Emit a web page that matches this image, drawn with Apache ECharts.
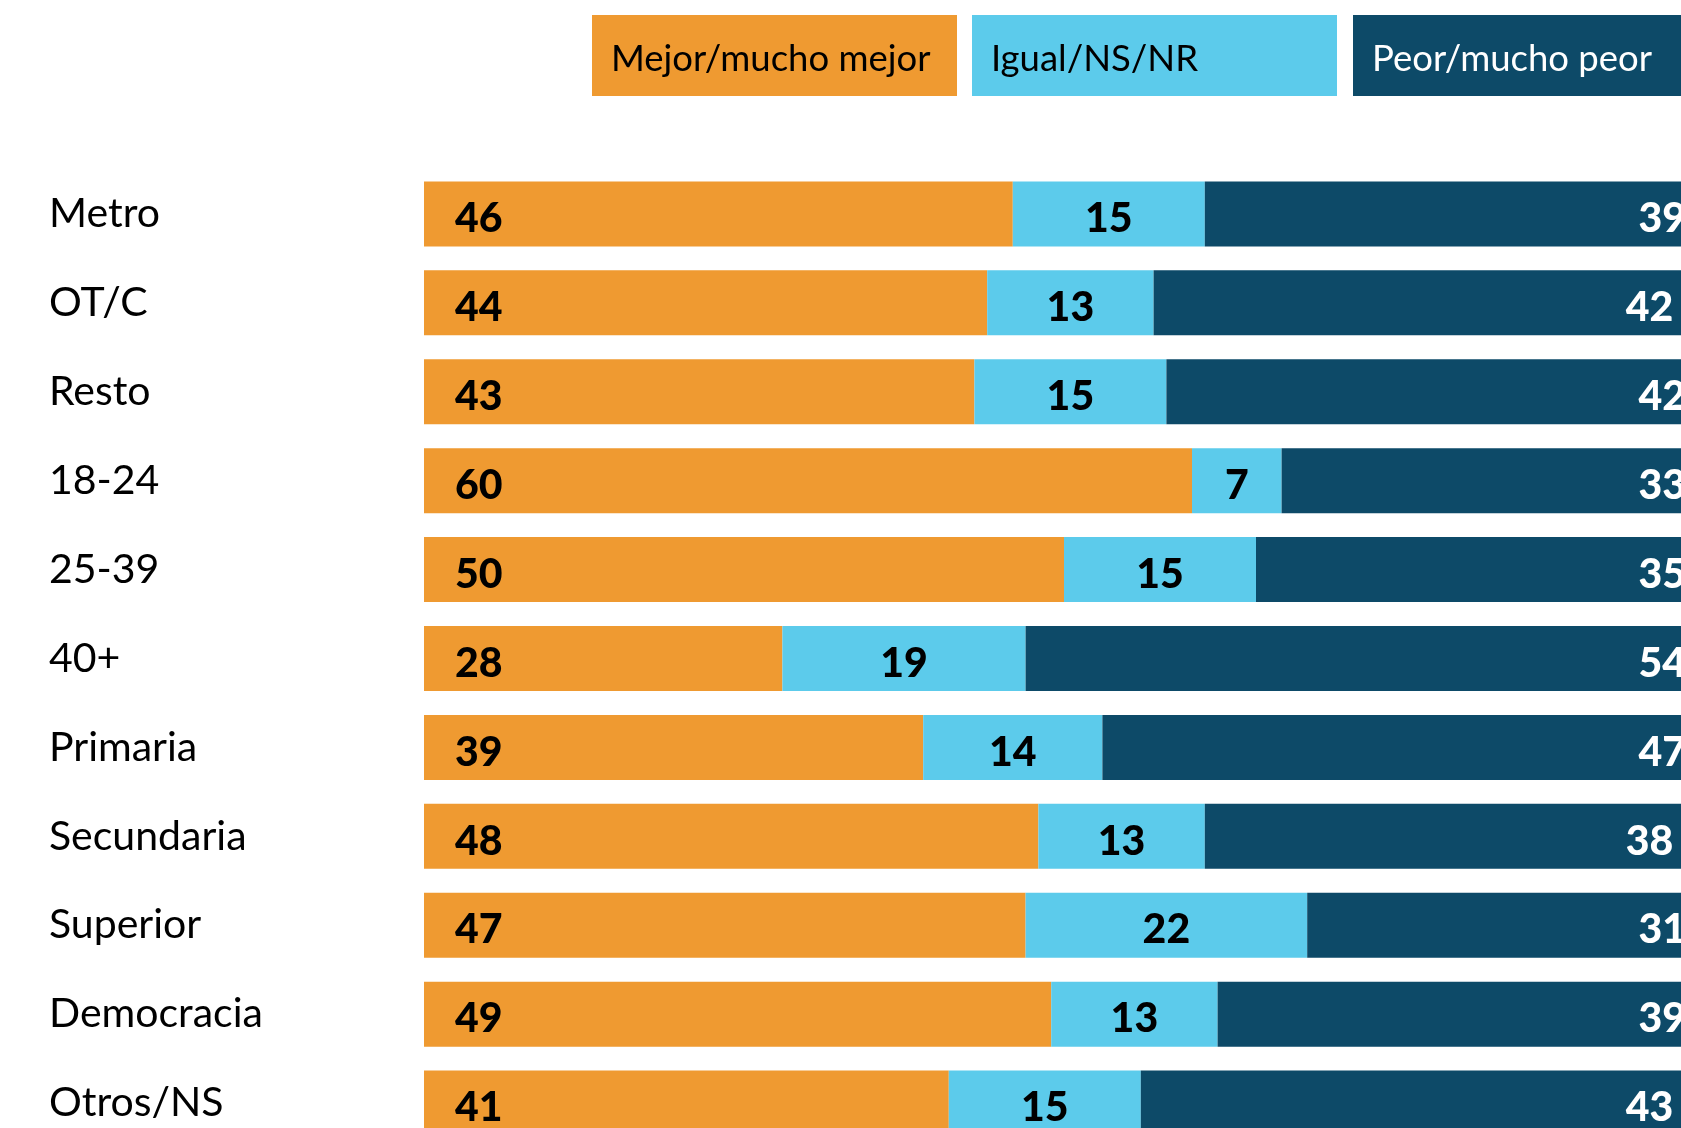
<!DOCTYPE html>
<html>
<head>
<meta charset="utf-8">
<script src="https://cdn.jsdelivr.net/npm/echarts@6/dist/echarts.min.js"></script>
<style>
  html, body { margin: 0; padding: 0; background: #fff; overflow: hidden; }
  /* 图表比窗口大，右侧和底部被裁掉 */
  #chart { width: 1720px; height: 1150px; }
</style>
</head>
<body>
<div id="chart"></div>
<script>
// 分组
const categories = ['Metro', 'OT/C', 'Resto', '18-24', '25-39', '40+', 'Primaria', 'Secundaria', 'Superior', 'Democracia', 'Otros/NS'];
const seriesNames = ['Mejor/mucho mejor', 'Igual/NS/NR', 'Peor/mucho peor'];
const mejor = [46, 44, 43, 60, 50, 28, 39, 48, 47, 49, 41];
const igual = [15, 13, 15, 7, 15, 19, 14, 13, 22, 13, 15];
const peor = [39, 42, 42, 33, 35, 54, 47, 38, 31, 39, 43];

const colors = ['#EF9A31', '#5CCBEB', '#0D4A68'];
const font = 'Lato, "Noto Sans", sans-serif';

let myChart = echarts.init(document.getElementById('chart'));

// 数值标签
function valueLabel(position, color, distance) {
  return {
    show: true,
    position: position,
    distance: distance,
    offset: [0, 5],
    color: color,
    fontFamily: font,
    fontWeight: 900,
    fontSize: 41
  };
}

// 图例方块（放在顶部）
const legendBoxes = [];
const boxX = [592, 972, 1353];
seriesNames.forEach((name, i) => {
  legendBoxes.push({
    type: 'rect',
    left: boxX[i],
    top: 15,
    shape: { width: 365, height: 81 },
    style: { fill: colors[i] }
  });
  legendBoxes.push({
    type: 'text',
    left: boxX[i] + 19,
    top: 41,
    style: {
      text: name,
      fill: i === 2 ? '#fff' : '#000',
      font: '36.5px ' + font
    }
  });
});

myChart.setOption({
  animation: false,
  grid: {
    left: 424,
    right: 16,
    top: 169.5,
    bottom: 2.5
  },
  xAxis: {
    type: 'value',
    min: 0,
    max: 100,
    show: false
  },
  yAxis: {
    type: 'category',
    data: categories,
    inverse: true,
    axisLine: { show: false },
    axisTick: { show: false },
    splitLine: { show: false },
    axisLabel: {
      align: 'left',
      margin: 375,
      color: '#000',
      fontFamily: font,
      fontSize: 41
    }
  },
  graphic: legendBoxes,
  series: [
    {
      name: seriesNames[0],
      type: 'bar',
      stack: 'total',
      data: mejor,
      barWidth: 65,
      itemStyle: { color: colors[0] },
      label: valueLabel('insideLeft', '#000', 31)
    },
    {
      name: seriesNames[1],
      type: 'bar',
      stack: 'total',
      data: igual,
      barWidth: 65,
      itemStyle: { color: colors[1] },
      label: valueLabel('inside', '#000', 5)
    },
    {
      name: seriesNames[2],
      type: 'bar',
      stack: 'total',
      data: peor,
      barWidth: 65,
      itemStyle: { color: colors[2] },
      label: valueLabel('insideRight', '#fff', 18)
    }
  ]
});
</script>
</body>
</html>
